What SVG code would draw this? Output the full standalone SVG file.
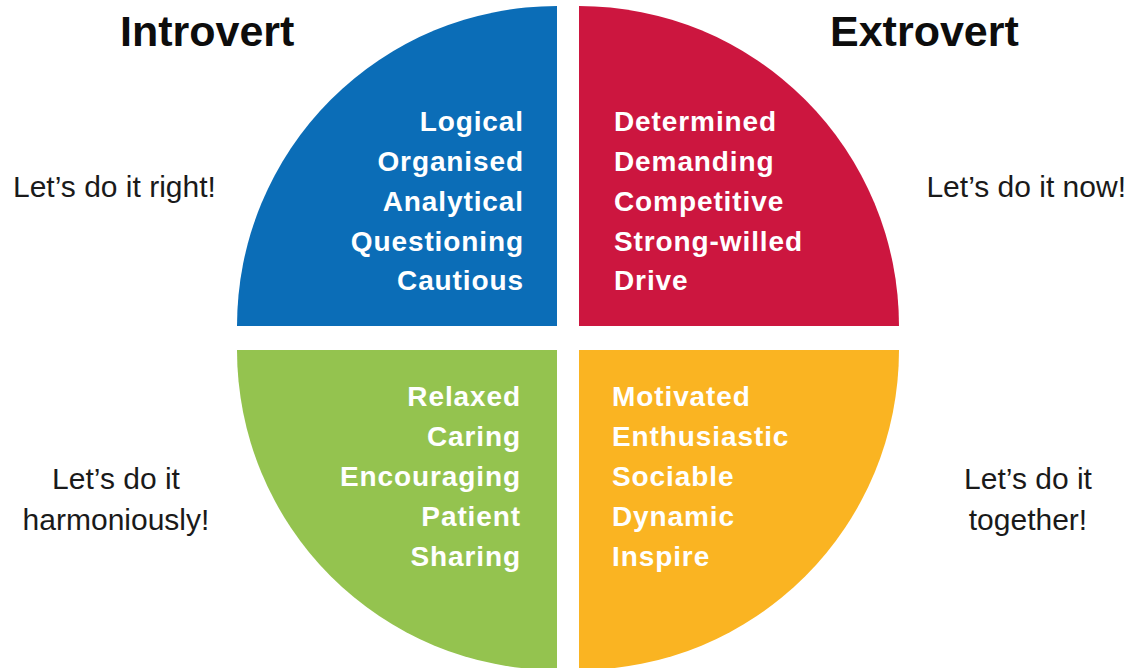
<svg xmlns="http://www.w3.org/2000/svg" width="1139" height="668" viewBox="0 0 1139 668">
<style>
.q{font-family:"Liberation Sans",Arial,sans-serif;font-weight:bold;font-size:28px;fill:#ffffff;letter-spacing:0.9px}
.qe{text-anchor:end}
.h{font-family:"Liberation Sans",Arial,sans-serif;font-weight:bold;font-size:43px;fill:#0d0d0d}
.s{font-family:"Liberation Sans",Arial,sans-serif;font-size:30px;fill:#1a1a1a}
.sm{text-anchor:middle}
</style>
<rect width="1139" height="668" fill="#ffffff"/>
<g id="introvert-heading"><text class="h" x="120" y="46">Introvert</text></g>
<g id="extrovert-heading"><text class="h" x="830" y="46">Extrovert</text></g>
<g id="quadrant-blue">
<path d="M557,326 L237,326 A320,320 0 0 1 557,6 Z" fill="#0B6DB7"/>
<text class="q qe" x="524" y="131">Logical</text>
<text class="q qe" x="524" y="171">Organised</text>
<text class="q qe" x="524" y="211">Analytical</text>
<text class="q qe" x="524" y="251">Questioning</text>
<text class="q qe" x="524" y="290">Cautious</text>
</g>
<g id="quadrant-red">
<path d="M579,326 L579,6 A320,320 0 0 1 899,326 Z" fill="#CC163F"/>
<text class="q" x="614" y="131">Determined</text>
<text class="q" x="614" y="171">Demanding</text>
<text class="q" x="614" y="211">Competitive</text>
<text class="q" x="614" y="251">Strong-willed</text>
<text class="q" x="614" y="290">Drive</text>
</g>
<g id="quadrant-green">
<path d="M557,350 L557,670 A320,320 0 0 1 237,350 Z" fill="#94C34F"/>
<text class="q qe" x="521" y="406">Relaxed</text>
<text class="q qe" x="521" y="446">Caring</text>
<text class="q qe" x="521" y="486">Encouraging</text>
<text class="q qe" x="521" y="526">Patient</text>
<text class="q qe" x="521" y="566">Sharing</text>
</g>
<g id="quadrant-orange">
<path d="M579,350 L899,350 A320,320 0 0 1 579,670 Z" fill="#FAB422"/>
<text class="q" x="612" y="406">Motivated</text>
<text class="q" x="612" y="446">Enthusiastic</text>
<text class="q" x="612" y="486">Sociable</text>
<text class="q" x="612" y="526">Dynamic</text>
<text class="q" x="612" y="566">Inspire</text>
</g>
<g id="label-right"><text class="s" x="13" y="197">Let’s do it right!</text></g>
<g id="label-now"><text class="s" x="1126" y="197" text-anchor="end">Let’s do it now!</text></g>
<g id="label-harmoniously">
<text class="s sm" x="116" y="489">Let’s do it</text>
<text class="s sm" x="116" y="530">harmoniously!</text>
</g>
<g id="label-together">
<text class="s sm" x="1028" y="489">Let’s do it</text>
<text class="s sm" x="1028" y="530">together!</text>
</g>
<g id="connectors"></g>
</svg>
